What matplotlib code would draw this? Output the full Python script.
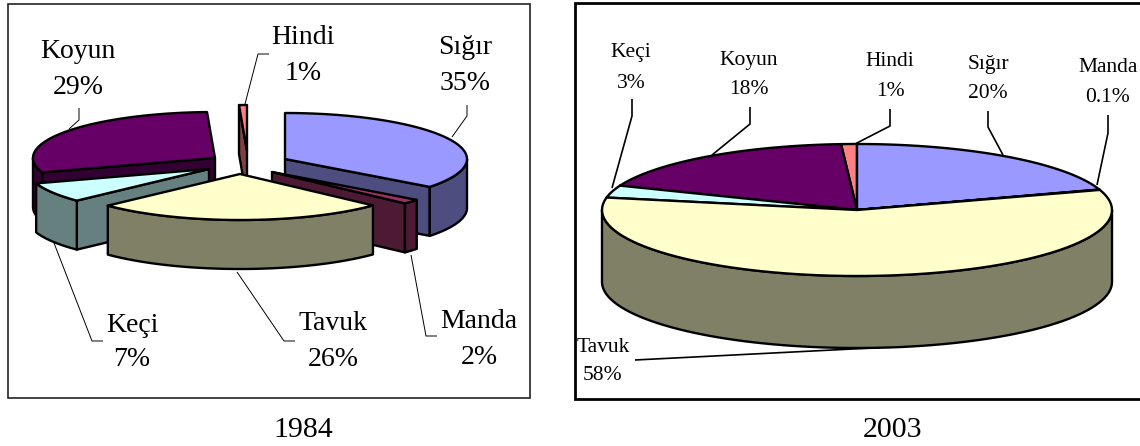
import numpy as np
import matplotlib
matplotlib.use("Agg")
import matplotlib.pyplot as plt
from matplotlib.patches import Polygon, Rectangle

plt.rcParams['font.family'] = ['Liberation Serif', 'DejaVu Serif']

names = ["Sığır", "Manda", "Tavuk", "Keçi", "Koyun", "Hindi"]
values_1984 = [35.4, 1.6, 26, 7, 29.4, 0.7]
values_2003 = [20, 0.1, 58, 3, 18, 1]
labels_1984 = ["35%", "2%", "26%", "7%", "29%", "1%"]
labels_2003 = ["20%", "0.1%", "58%", "3%", "18%", "1%"]

top_colors = ["#9999FF", "#993366", "#FFFFCC", "#CCFFFF", "#660066", "#FF8080"]
side_colors = ["#4D4D80", "#4D1A33", "#808066", "#668080", "#330033", "#804040"]

# slice centres in pixels, the exploded look of the left pie
centers_1984 = [(285, 159), (272, 172), (240, 174), (209, 169), (215, 158), (247, 151)]
centers_2003 = [(857, 210)] * 6

# back to front
order_1984 = [5, 4, 0, 3, 1, 2]
order_2003 = [5, 4, 3, 0, 1, 2]

text_1984 = [(465, 47, 83), (479, 321, 357), (333, 323, 360), (132, 325, 360), (78, 51, 87), (303, 38, 74)]
text_2003 = [(988, 64, 94), (1108, 67, 98), (603, 347, 376), (631, 52, 83), (749, 60, 90), (890, 62, 92)]

leaders_1984 = [
    [(467, 105), (467, 116), (452, 137)],
    [(437, 336), (426, 336), (411, 255)],
    [(295, 341), (284, 341), (237, 272)],
    [(103, 341), (92, 341), (54, 243)],
    [(79, 108), (79, 120), (69, 129)],
    [(269, 54), (258, 54), (245, 104)],
]
leaders_2003 = [
    [(988, 111), (988, 127), (1003, 155)],
    [(1108, 115), (1108, 133), (1097, 185)],
    [(635, 360), (872, 348)],
    [(632, 99), (632, 116), (612, 188)],
    [(750, 107), (750, 124), (712, 155)],
    [(890, 109), (890, 126), (855, 144)],
]


def rim(cx, cy, rx, ry, a0, a1):
    t = np.radians(np.linspace(a0, a1, 80))
    return np.column_stack([cx + rx * np.sin(t), cy - ry * np.cos(t)])


def pie3d(ax, values, centers, order, rx, ry, depth, lw):
    edges = np.concatenate([[0], np.cumsum(values)]) * 360.0 / sum(values)
    for i in order:
        cx, cy = centers[i]
        a0, a1 = edges[i], edges[i + 1]
        down = np.array([0, depth])
        apex = np.array([cx, cy])
        # cut faces that look toward the viewer
        for a, visible in ((a0, np.sin(np.radians(a0)) < 0), (a1, np.sin(np.radians(a1)) > 0)):
            if visible:
                p = rim(cx, cy, rx, ry, a, a)[0]
                ax.add_patch(Polygon([apex, p, p + down, apex + down], fc=side_colors[i],
                                     ec="black", lw=lw, joinstyle="round"))
        # outer wall, front half only
        b0, b1 = max(a0, 90), min(a1, 270)
        if b1 > b0:
            arc = rim(cx, cy, rx, ry, b0, b1)
            ax.add_patch(Polygon(np.vstack([arc, arc[::-1] + down]), fc=side_colors[i],
                                 ec="black", lw=lw, joinstyle="round"))
        arc = rim(cx, cy, rx, ry, a0, a1)
        ax.add_patch(Polygon(np.vstack([apex, arc]), fc=top_colors[i], ec="black", lw=lw,
                             joinstyle="round"))


def labels(ax, pct, pos, leaders, size, lw):
    for name, p, (x, y0, y1), line in zip(names, pct, pos, leaders):
        ax.text(x, y0, name, fontsize=size, ha="center", va="center", color="black")
        ax.text(x, y1, p, fontsize=size, ha="center", va="center", color="black")
        xs, ys = zip(*line)
        ax.plot(xs, ys, color="black", lw=lw, solid_capstyle="butt")


fig = plt.figure(figsize=(11.4, 4.46), dpi=100)
ax = fig.add_axes([0, 0, 1, 1])
ax.set_xlim(0, 1140)
ax.set_ylim(446, 0)
ax.axis("off")

ax.add_patch(Rectangle((8, 4), 522, 394, fc="white", ec="#222222", lw=1.2))
ax.add_patch(Rectangle((575, 3), 570, 396, fc="white", ec="black", lw=2))

pie3d(ax, values_1984, centers_1984, order_1984, 182, 46, 49, 1.7)
pie3d(ax, values_2003, centers_2003, order_2003, 255, 66, 72, 1.7)

labels(ax, labels_1984, text_1984, leaders_1984, 20, 0.7)
labels(ax, labels_2003, text_2003, leaders_2003, 15.5, 1.2)

ax.text(303, 430, "1984", fontsize=21.5, ha="center", va="center")
ax.text(893, 430, "2003", fontsize=21.5, ha="center", va="center")

fig.savefig("out.png", dpi=100)
